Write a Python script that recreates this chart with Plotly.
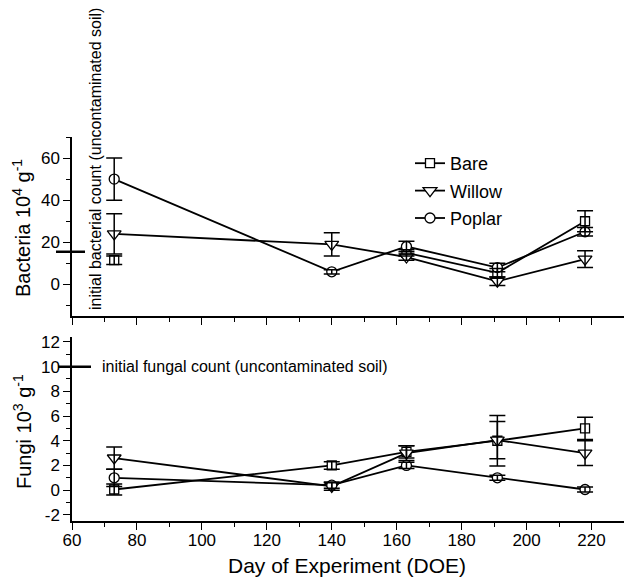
import plotly.graph_objects as go

# ---- data ----
days = [73, 140, 163, 191, 218]
series_names = ["Bare", "Willow", "Poplar"]

bact_bare = [11.5, None, 15, 5.5, 30]
bact_bare_err = [2, None, 1.5, 2, 5]
bact_willow = [24, 19, 13, 1.5, 12]
bact_willow_err = [9.5, 5.5, 1.5, 2, 4]
bact_poplar = [50, 6, 18, 8, 25]
bact_poplar_err = [10, 1, 2.5, 2, 2]

fungi_bare = [0.05, 2.0, 3.1, 4.0, 5.0]
fungi_bare_err = [0.45, 0.3, 0.5, 2.05, 0.9]
fungi_willow = [2.6, 0.3, 3.0, 4.05, 3.0]
fungi_willow_err = [0.9, 0.3, 0.6, 1.5, 1.0]
fungi_poplar = [1.0, 0.4, 2.0, 1.0, 0.05]
fungi_poplar_err = [0.7, 0.25, 0.25, 0.2, 0.2]

initial_bacteria = 15.5
initial_fungi = 10

bact_ticks = [0, 20, 40, 60]
fungi_ticks = [-2, 0, 2, 4, 6, 8, 10, 12]
x_ticks = [60, 80, 100, 120, 140, 160, 180, 200, 220]

symbols = {"Bare": "square", "Willow": "triangle-down", "Poplar": "circle"}
sizes = {"Bare": 9, "Willow": 12, "Poplar": 10}

FONT = "Arial, Liberation Sans, sans-serif"
fig = go.Figure()

bact = {"Bare": (bact_bare, bact_bare_err), "Willow": (bact_willow, bact_willow_err),
        "Poplar": (bact_poplar, bact_poplar_err)}
fungi = {"Bare": (fungi_bare, fungi_bare_err), "Willow": (fungi_willow, fungi_willow_err),
         "Poplar": (fungi_poplar, fungi_poplar_err)}

def marker(name):
    return dict(symbol=symbols[name], size=sizes[name], color="white",
                line=dict(color="black", width=1.3))

# lines + markers
for name in series_names:
    vals, errs = bact[name]
    fig.add_trace(go.Scatter(x=days, y=vals, mode="lines+markers", name=name,
                             line=dict(color="black", width=1.8), marker=marker(name),
                             connectgaps=False, xaxis="x", yaxis="y",
                             legendgroup=name, showlegend=True))
for name in series_names:
    vals, errs = fungi[name]
    fig.add_trace(go.Scatter(x=days, y=vals, mode="lines+markers", name=name,
                             line=dict(color="black", width=1.8), marker=marker(name),
                             xaxis="x2", yaxis="y2", showlegend=False))
# error bars on top
for name in series_names:
    for (data, xa, ya) in ((bact, "x", "y"), (fungi, "x2", "y2")):
        vals, errs = data[name]
        fig.add_trace(go.Scatter(x=days, y=vals, mode="markers",
                                 marker=dict(size=1, color="rgba(0,0,0,0)"),
                                 error_y=dict(type="data", array=errs, visible=True,
                                              color="black", thickness=1.5, width=8),
                                 xaxis=xa, yaxis=ya, showlegend=False, hoverinfo="skip"))

axis_common = dict(showline=True, linecolor="black", linewidth=1.5, showgrid=False,
                   zeroline=False, ticks="outside", tickcolor="black", tickwidth=1.3,
                   ticklen=7, tickfont=dict(family=FONT, size=17, color="black"))

fig.update_layout(
    width=624, height=585,
    margin=dict(l=72, r=0, t=0, b=0, autoexpand=False),
    paper_bgcolor="white", plot_bgcolor="white",
    font=dict(family=FONT, color="black"),
    xaxis=dict(domain=[0, 1], range=[60, 230], anchor="y", tickvals=x_ticks,
               showticklabels=False, minor=dict(dtick=10, tick0=60, ticks="outside", ticklen=4,
                                                tickcolor="black", tickwidth=1.3),
               **axis_common),
    yaxis=dict(domain=[1 - 316 / 585, 1 - 137 / 585], range=[-15, 70], anchor="x",
               tickvals=bact_ticks, ticktext=[str(v) for v in bact_ticks],
               minor=dict(dtick=10, tick0=0, ticks="outside", ticklen=4,
                          tickcolor="black", tickwidth=1.3),
               **axis_common),
    xaxis2=dict(domain=[0, 1], range=[60, 230], anchor="y2", matches="x", tickvals=x_ticks,
                ticktext=[str(v) for v in x_ticks], ticklabelstandoff=-4,
                minor=dict(dtick=10, tick0=60, ticks="outside", ticklen=4,
                           tickcolor="black", tickwidth=1.3),
                **axis_common),
    yaxis2=dict(domain=[1 - 521 / 585, 1 - 337 / 585], range=[-2.5, 12.4], anchor="x2",
                tickvals=fungi_ticks, ticktext=[str(v) for v in fungi_ticks],
                minor=dict(dtick=1, tick0=0, ticks="outside", ticklen=4,
                           tickcolor="black", tickwidth=1.3),
                **axis_common),
    legend=dict(x=(410 - 72) / 552, y=1 - 145 / 585, xanchor="left", yanchor="top",
                bgcolor="rgba(0,0,0,0)", font=dict(family=FONT, size=18, color="black"),
                tracegroupgap=1),
    showlegend=True,
)

# initial count reference lines
fig.add_shape(type="line", xref="paper", yref="y", x0=(56 - 72) / 552, x1=(85 - 72) / 552,
              y0=initial_bacteria, y1=initial_bacteria, line=dict(color="black", width=2.5))
fig.add_shape(type="line", xref="paper", yref="y2", x0=(58 - 72) / 552, x1=(91 - 72) / 552,
              y0=initial_fungi, y1=initial_fungi, line=dict(color="black", width=2.5))

fig.add_annotation(text="initial bacterial count (uncontaminated soil)", textangle=-90,
                   xref="paper", yref="paper", x=(96 - 72) / 552, y=1 - 159 / 585,
                   xanchor="center", yanchor="middle", showarrow=False,
                   font=dict(family=FONT, size=16, color="black"))
fig.add_annotation(text="initial fungal count (uncontaminated soil)",
                   xref="paper", yref="y2", x=(100 - 72) / 552, y=initial_fungi,
                   xanchor="left", yanchor="middle", showarrow=False,
                   font=dict(family=FONT, size=16, color="black"))

# axis titles
fig.add_annotation(text="Bacteria 10<sup>4</sup> g<sup>-1</sup>", textangle=-90,
                   xref="paper", yref="paper", x=(22 - 72) / 552, y=1 - 228 / 585,
                   xanchor="center", yanchor="middle", showarrow=False,
                   font=dict(family=FONT, size=20, color="black"))
fig.add_annotation(text="Fungi 10<sup>3</sup> g<sup>-1</sup>", textangle=-90,
                   xref="paper", yref="paper", x=(22 - 72) / 552, y=1 - 432 / 585,
                   xanchor="center", yanchor="middle", showarrow=False,
                   font=dict(family=FONT, size=20, color="black"))
fig.add_annotation(text="Day of Experiment (DOE)",
                   xref="paper", yref="paper", x=(347 - 72) / 552, y=1 - 565 / 585,
                   xanchor="center", yanchor="middle", showarrow=False,
                   font=dict(family=FONT, size=21, color="black"))

fig.write_html("out.html", config={"displayModeBar": False},
               post_script="document.body.style.margin='0';")
